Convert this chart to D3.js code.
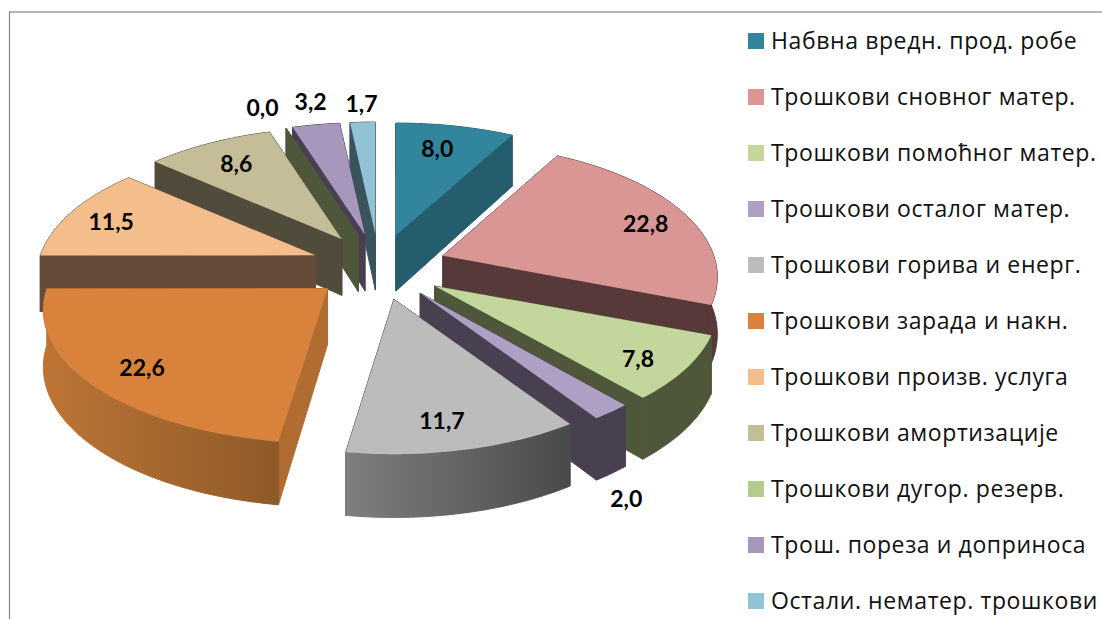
<!DOCTYPE html>
<html>
<head>
<meta charset="utf-8">
<script src="https://cdn.jsdelivr.net/npm/d3@7"></script>
<style>
    html, body { margin: 0; padding: 0; background: #fff; overflow: hidden; }
    text { font-family: Lato, "Open Sans", "Noto Sans", sans-serif; }
    .legend-label { font-family: "Open Sans", "Noto Sans", sans-serif; letter-spacing: 0.6px; }
</style>
</head>
<body>
<div id="chart"></div>
<script>
// Values
const categories = ['Набвна вредн. прод. робе', 'Трошкови сновног матер.', 'Трошкови помоћног матер.', 'Трошкови осталог матер.', 'Трошкови горива и енерг.', 'Трошкови зарада и накн.', 'Трошкови произв. услуга', 'Трошкови амортизације', 'Трошкови дугор. резерв.', 'Трош. пореза и доприноса', 'Остали. нематер. трошкови'];
const values = [8.0, 22.8, 7.8, 2.0, 11.7, 22.6, 11.5, 8.6, 0.0, 3.2, 1.7];

// Colours of each slice
const topColors = ['#31859c', '#d99694', '#c3d69b', '#ae9fc5', '#bcbcbc', '#d9823b', '#f4bd8c', '#c4bd97', '#c3d69b', '#a897bc', '#92c3d5'];
const legendColors = ['#31859c', '#d99694', '#c3d69b', '#ae9fc5', '#bcbcbc', '#d9823b', '#f4bd8c', '#c4bd97', '#b5cb8e', '#a897bc', '#92c3d5'];
const wallColors = ['#235d6e', '#57393a', '#4f573b', '#483f51', '#4d4d4d', '#b06c31', '#654c3a', '#504b3b', '#4f573b', '#483f51', '#3a545e'];
const rimLeft = ['#235d6e', '#57393a', '#4f573b', '#483f51', '#7f7f7f', '#bd7535', '#654c3a', '#504b3b', '#4f573b', '#483f51', '#3a545e'];
const rimRight = ['#235d6e', '#57393a', '#4f573b', '#483f51', '#4a4a4a', '#8f5a28', '#654c3a', '#504b3b', '#4f573b', '#483f51', '#3a545e'];

// Back to front, so nearer slices cover the walls of the ones behind
const drawOrder = [0, 10, 9, 8, 7, 1, 6, 2, 5, 3, 4];

// Label placement along each slice: distance in radii and turn from the mid angle (degrees)
const labelRadius = [0.757, 0.81, 0.85, 1.397, 0.825, 0.83, 0.82, 0.768, 1.24, 1.24, 1.19];
const labelTurn = [-1.6, 1.6, 2, 12, 2, -1.5, -1.5, -0.3, -1.85, 0.9, 0.17];

// Small width corrections, the slices are not all the same size in the reference
const widen = [1, 0.985, 1.015, 1, 1, 1.02, 1, 1, 1, 1, 1];

const width = 1102, height = 619;
const pieCenter = { x: 379, y: 267 };
const explodeX = 68, explodeY = 33;
const radiusX = 275, radiusY = 130;
const perspective = 0.161;
const depth = 56;

const svg = d3.select('#chart')
    .append('svg')
    .attr('width', width)
    .attr('height', height);

svg.append('rect')
    .attr('x', 9.5)
    .attr('y', 12)
    .attr('width', width + 20)
    .attr('height', height + 20)
    .attr('fill', '#fff')
    .attr('stroke', '#868686')
    .attr('stroke-width', 1.2);

const defs = svg.append('defs');

const arcs = d3.pie().sort(null).value(d => d)(values);
const formatValue = d3.formatLocale({ decimal: ',', thousands: '.', grouping: [3], currency: ['', ''] }).format('.1f');

// Projects a point of the pie plane, given in radii and angle, onto the screen
function scaleAt(r, a) {
    return 1 / (1 + perspective * r * Math.cos(a));
}
function apexOf(mid) {
    return [pieCenter.x + explodeX * Math.sin(mid), pieCenter.y - explodeY * Math.cos(mid)];
}
function project(mid, r, a, down, stretch) {
    const apex = apexOf(mid);
    const s = scaleAt(r, a);
    const drop = down ? depth * Math.pow(s, 0.7) : 0;
    return [apex[0] + radiusX * (stretch || 1) * r * Math.sin(a) * s, apex[1] - radiusY * r * Math.cos(a) * s + drop];
}

const line = d3.line();

function rimAngles(d) {
    const steps = Math.max(1, Math.ceil((d.endAngle - d.startAngle) / 0.02));
    return d3.range(steps + 1).map(k => d.startAngle + (d.endAngle - d.startAngle) * k / steps);
}

function topPath(d, mid, st) {
    const pts = rimAngles(d).map(a => project(mid, 1, a, false, st));
    return line([project(mid, 0, 0, false)].concat(pts)) + 'Z';
}
function wallPath(mid, a, st) {
    return line([
        project(mid, 0, a, false),
        project(mid, 1, a, false, st),
        project(mid, 1, a, true, st),
        project(mid, 0, a, true)
    ]) + 'Z';
}
function rimPath(d, mid, st) {
    const upper = rimAngles(d).map(a => project(mid, 1, a, false, st));
    const lower = rimAngles(d).reverse().map(a => project(mid, 1, a, true, st));
    return line(upper.concat(lower)) + 'Z';
}

const sliceGroup = svg.append('g');

drawOrder.forEach(function (i) {
    const d = arcs[i];
    const mid = (d.startAngle + d.endAngle) / 2;

    const grad = defs.append('linearGradient')
        .attr('id', 'rim' + i)
        .attr('x1', '0%').attr('x2', '100%')
        .attr('y1', '0%').attr('y2', '0%');
    grad.append('stop').attr('offset', '0%').attr('stop-color', rimLeft[i]);
    grad.append('stop').attr('offset', '100%').attr('stop-color', rimRight[i]);

    const g = sliceGroup.append('g');
    g.append('path').attr('d', wallPath(mid, d.endAngle, widen[i])).attr('fill', wallColors[i]).attr('stroke', wallColors[i]).attr('stroke-width', 1);
    g.append('path').attr('d', wallPath(mid, d.startAngle, widen[i])).attr('fill', wallColors[i]).attr('stroke', wallColors[i]).attr('stroke-width', 1);
    g.append('path').attr('d', rimPath(d, mid, widen[i])).attr('fill', 'url(#rim' + i + ')').attr('stroke', 'url(#rim' + i + ')').attr('stroke-width', 1);
    g.append('path').attr('d', topPath(d, mid, widen[i])).attr('fill', topColors[i]);
});

// Value labels
svg.append('g')
    .selectAll('text')
    .data(arcs)
    .join('text')
    .attr('transform', function (d, i) {
        const mid = (d.startAngle + d.endAngle) / 2;
        const p = project(mid, labelRadius[i], mid + labelTurn[i] * Math.PI / 180, false);
        return 'translate(' + p[0] + ',' + p[1] + ')';
    })
    .attr('text-anchor', 'middle')
    .attr('dy', '0.35em')
    .attr('font-size', 23)
    .attr('font-weight', 700)
    .attr('fill', '#000')
    .text(d => formatValue(d.value));

// Legend
const legendY = d3.scalePoint().domain(categories).range([41, 601]);

const legend = svg.append('g')
    .selectAll('g')
    .data(categories)
    .join('g')
    .attr('transform', d => 'translate(748,' + legendY(d) + ')');

legend.append('rect')
    .attr('x', 0)
    .attr('y', -8)
    .attr('width', 16)
    .attr('height', 16)
    .attr('fill', (d, i) => legendColors[i]);

legend.append('text')
    .attr('class', 'legend-label')
    .attr('x', 23)
    .attr('dy', '0.35em')
    .attr('font-size', 23)
    .attr('fill', '#111')
    .text(d => d);
</script>
</body>
</html>
